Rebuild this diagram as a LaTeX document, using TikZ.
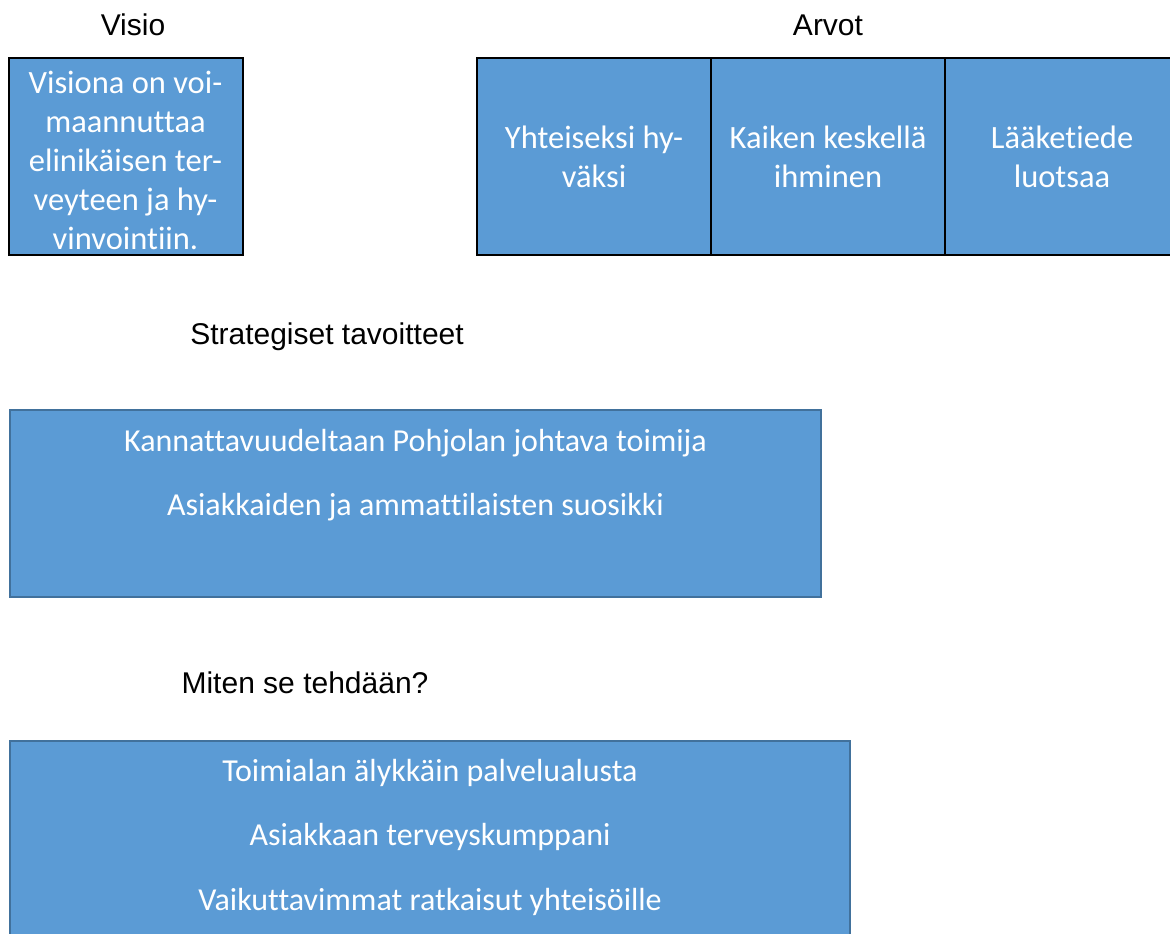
\documentclass[tikz,border=0pt]{standalone}
\usepackage{fontspec}
\setmainfont{Carlito}[Ligatures=NoCommon]
\newfontfamily\headfont{Liberation Sans}
\usetikzlibrary{positioning}

\definecolor{boxblue}{RGB}{91,155,213}
\definecolor{boxline}{RGB}{65,113,156}

\tikzset{
  heading/.style={font=\headfont\fontsize{30}{36}\selectfont, text=black, inner sep=0pt},
  valuebox/.style={draw=black, line width=2pt, fill=boxblue, text=white, align=center,
    minimum width=234pt, minimum height=197pt, inner sep=0pt, outer sep=0pt,
    font=\fontsize{32.5}{39}\selectfont},
  goalbox/.style={draw=boxline, line width=1.5pt, fill=boxblue, inner sep=0pt},
  goaltext/.style={text=white, inner sep=0pt, font=\fontsize{32}{38}\selectfont},
}

\begin{document}
\begin{tikzpicture}[x=1pt, y=1pt]
    \useasboundingbox (0, 0) rectangle (1170, -934);

    % Visio and its box
    \node[heading] (visiolabel) at (133, -25) {Visio};
    \node[valuebox] (visio) at (125.5, -156.5) {};
    \node[text=white, align=center, inner sep=0pt, font=\fontsize{32.5}{39}\selectfont] (visiotext) at (125.5, -160)
      {Visiona on voi-\\maannuttaa\\elinikäisen ter-\\veyteen ja hy-\\vinvointiin.};

    % Arvot, three boxes side by side
    \node[heading] (arvotlabel) at (828, -25) {Arvot};
    \node[valuebox] (arvo1) at (594, -156.5) {Yhteiseksi hy-\\väksi};
    \node[valuebox, right=0pt of arvo1] (arvo2) {Kaiken keskellä\\ihminen};
    \node[valuebox, right=0pt of arvo2] (arvo3) {Lääketiede\\luotsaa};

    % Strategiset tavoitteet
    \node[heading] (tavoitelabel) at (327, -337) {Strategiset tavoitteet};
    \node[goalbox, minimum width=811pt, minimum height=187pt] (tavoite) at (415.5, -503.5) {};
    \node[goaltext] (tavoite1) at (415.5, -443) {Kannattavuudeltaan Pohjolan johtava toimija};
    \node[goaltext] (tavoite2) at (415.5, -507) {Asiakkaiden ja ammattilaisten suosikki};

    % Miten se tehdaan
    \node[heading] (keinolabel) at (305, -683) {Miten se tehdään?};
    \node[goalbox, minimum width=840pt, minimum height=220pt] (keino) at (430, -851) {};
    \node[goaltext] (keino1) at (430, -773) {Toimialan älykkäin palvelualusta};
    \node[goaltext] (keino2) at (430, -837) {Asiakkaan terveyskumppani};
    \node[goaltext] (keino3) at (430, -902) {Vaikuttavimmat ratkaisut yhteisöille};
\end{tikzpicture}
\end{document}
